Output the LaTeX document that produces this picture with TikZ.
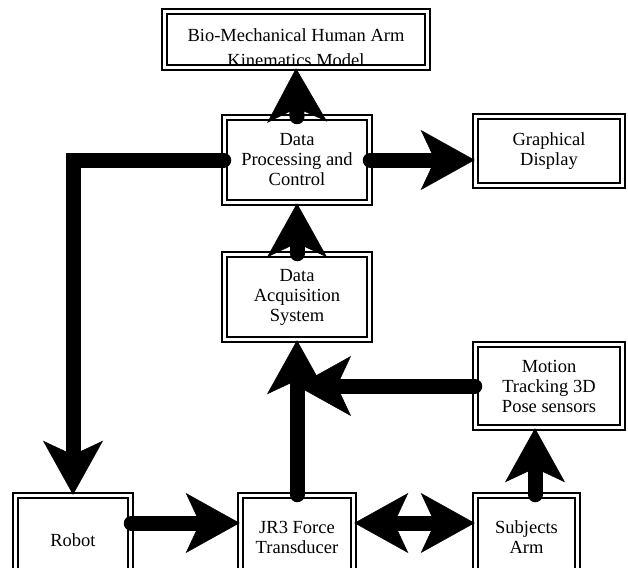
\documentclass[tikz,border=0pt]{standalone}
\usepackage{fontspec}
\setmainfont{Liberation Serif}
\usetikzlibrary{arrows.meta,calc}
\tikzset{
  box/.style={draw, line width=1.5pt, double, double distance=3.5pt, rectangle,
    inner sep=0pt, align=center, font=\fontsize{18.5}{20}\selectfont},
  txt/.style={inner sep=0pt, align=center, font=\fontsize{18.5}{25}\selectfont},
  tipA/.tip={Stealth[length=54pt,width=60pt,inset=14pt,line width=0.5pt]},
  conn/.style={line width=15pt, line cap=round, line join=miter, -tipA},
  twoway/.style={line width=15pt, line cap=butt, tipA-tipA}
}
\begin{document}
\begin{tikzpicture}[x=1pt,y=-1pt]
\useasboundingbox (0,0) rectangle (628,567);
\clip (0,0) rectangle (628,567);
% boxes
\node[box, minimum width=263pt, minimum height=56pt] (bio) at (296,39.5) {};
\begin{scope}
  \clip ([shift={(3.5,3.5)}]bio.north west) rectangle ([shift={(-3.5,-3.5)}]bio.south east);
  \node[txt] (biotext) at (296,48) {Bio-Mechanical Human Arm\\Kinematics Model};
\end{scope}
\node[box, minimum width=145pt, minimum height=85pt] (dp) at (297,160) {Data\\Processing and\\Control};
\node[box, minimum width=147pt, minimum height=69pt] (gd) at (549,151) {Graphical\\Display};
\node[box, minimum width=145pt, minimum height=85pt] (daq) at (297,297) {Data\\Acquisition\\System};
\node[box, minimum width=147pt, minimum height=83pt] (motion) at (549,386) {Motion\\Tracking 3D\\Pose sensors};
\node[box, minimum width=115pt, minimum height=83pt] (robot) at (73,537) {\mbox{}\\Robot};
\node[box, minimum width=113pt, minimum height=83pt] (jr3) at (297,537) {JR3 Force\\Transducer};
\node[box, minimum width=102pt, minimum height=83pt] (subj) at (526.5,537) {Subjects\\Arm};
% helper coordinates
\coordinate (row) at (0,523);
\coordinate (sx) at (535,0);
% connectors
\draw[conn] (dp.north) -- (bio.south);
\draw[conn] (daq.north) -- (dp.south);
\draw[conn] (dp.east) -- (gd.west |- dp.east);
\draw[conn] (dp.west) -| (robot.north);
\draw[conn] (robot.east |- row) -- (jr3.west |- row);
\draw[twoway] (jr3.east |- row) -- (subj.west |- row);
\draw[conn] (jr3.north) -- (daq.south);
\draw[conn] (motion.west) -- (jr3.north |- motion.west);
\draw[conn] (sx |- subj.north) -- (sx |- motion.south);
\end{tikzpicture}
\end{document}
